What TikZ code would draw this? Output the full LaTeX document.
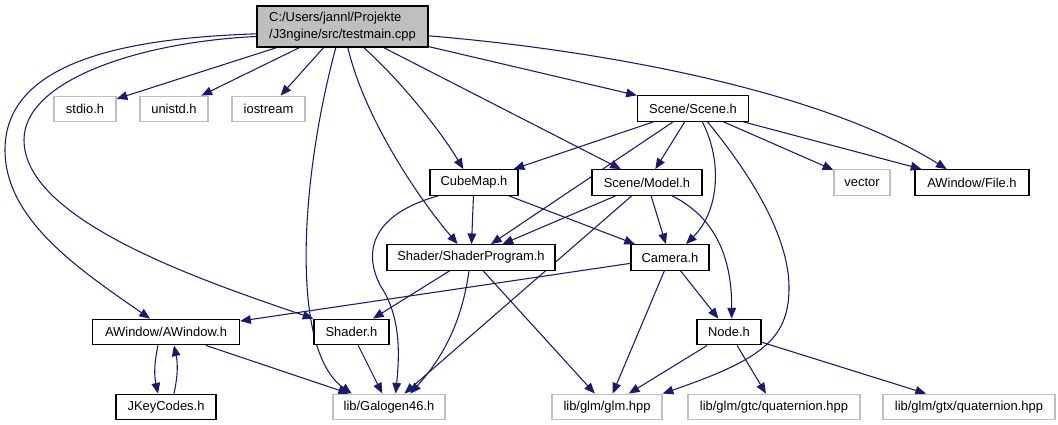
\documentclass[tikz,border=0pt]{standalone}
\usepackage{fontspec}
\setmainfont{Liberation Sans}
\usepackage{tikz}
\usetikzlibrary{arrows.meta,positioning,calc,backgrounds}

\definecolor{edgeblue}{HTML}{191970}
\definecolor{boxgray}{HTML}{BFBFBF}

\begin{document}
\begin{tikzpicture}[x=0.75pt, y=-0.75pt,
    >={Triangle[length=8pt,width=6.5pt]},
    hdr/.style={draw=black, line width=1pt, fill=white, inner sep=0pt,
        minimum height=25.5*0.75pt, font=\fontsize{9.7}{12.7}\selectfont},
    ext/.style={hdr, draw=boxgray},
    root/.style={hdr, fill=boxgray, align=left, minimum height=41*0.75pt},
    incl/.style={->, draw=edgeblue, line width=0.8pt}]
    % 1 像素 = 0.75pt，座標直接用像素 (y 向下)
    \def\px{0.75pt}
    \useasboundingbox (0,0) rectangle (1058,425);

    % --- 第一排：主檔與系統標頭 ---
    \node[root, minimum width=171*\px] (main) at (342.5,26.5) {C:/Users/jannl/Projekte\\/J3ngine/src/testmain.cpp};
    \node[ext, minimum width=62*\px] (stdio) at (85,109) {stdio.h};
    \node[ext, minimum width=68*\px] (unistd) at (174,109) {unistd.h};
    \node[ext, minimum width=73*\px] (iostream) at (268.5,109) {iostream};
    \node[hdr, minimum width=111*\px] (scene) at (693,108.5) {Scene/Scene.h};

    % --- 第二排 ---
    \node[hdr, minimum width=88*\px] (cubemap) at (474,182.5) {CubeMap.h};
    \node[hdr, minimum width=110*\px] (model) at (647,182.5) {Scene/Model.h};
    \node[ext, minimum width=56*\px] (vector) at (862,182.5) {vector};
    \node[hdr, minimum width=114*\px] (awfile) at (972,182.5) {AWindow/File.h};

    % --- 第三排 ---
    \node[hdr, minimum width=168*\px] (shprog) at (471,257.5) {Shader/ShaderProgram.h};
    \node[hdr, minimum width=78*\px] (camera) at (670,257.5) {Camera.h};

    % --- 第四排 ---
    \node[hdr, minimum width=147*\px] (awin) at (166,332) {AWindow/AWindow.h};
    \node[hdr, minimum width=75*\px] (shader) at (351.5,332) {Shader.h};
    \node[hdr, minimum width=64*\px] (nodeh) at (729,332) {Node.h};

    % --- 最底排 ---
    \node[hdr, minimum width=100*\px] (jkey) at (166,407) {JKeyCodes.h};
    \node[ext, minimum width=112*\px] (galogen) at (389,407) {lib/Galogen46.h};
    \node[ext, minimum width=110*\px] (glm) at (607,407) {lib/glm/glm.hpp};
    \node[ext, minimum width=172*\px] (gtc) at (774,407) {lib/glm/gtc/quaternion.hpp};
    \node[ext, minimum width=172*\px] (gtx) at (969,407) {lib/glm/gtx/quaternion.hpp};

    \begin{scope}[on background layer]
    % --- testmain.cpp 的 include ---
    \draw[incl] (main) -- (stdio);
    \draw[incl] (main) -- (unistd);
    \draw[incl] (main) -- (iostream);
    \draw[incl] ([yshift=-5.5pt]main.west) .. controls (130,38) and (5,60) .. (5,150)
        .. controls (5,220) and (80,270) .. ([xshift=-12pt]awin.north);
    \draw[incl] ([yshift=-7.5pt]main.west) .. controls (140,42) and (24,80) .. (24,140)
        .. controls (24,220) and (200,280) .. (shader.north west);
    \draw[incl] ([xshift=-5pt]main.south) .. controls (300,180) and (290,350) .. ([xshift=-28pt]galogen.north);
    \draw[incl] ([xshift=4pt]main.south) .. controls (365,120) and (420,200) .. ([xshift=-10pt]shprog.north);
    \draw[incl] ([xshift=16pt]main.south) .. controls (400,80) and (440,130) .. ([xshift=-8pt]cubemap.north);
    \draw[incl] (main) -- (model);
    \draw[incl] (main) -- (scene);
    \draw[incl] ([yshift=-7pt]main.east) .. controls (600,50) and (820,90) .. ([xshift=-19pt]awfile.north);

    % --- Scene/Scene.h ---
    \draw[incl] (scene) -- (cubemap);
    \draw[incl] (scene) -- (shprog);
    \draw[incl] (scene) -- (model);
    \draw[incl] ([xshift=7pt]scene.south) .. controls (722,160) and (720,210) .. ([xshift=12pt]camera.north);
    \draw[incl] ([xshift=11pt]scene.south) .. controls (755,180) and (790,240) .. (789,290)
        .. controls (788,340) and (760,360) .. (glm.north east);
    \draw[incl] (scene) -- (vector);
    \draw[incl] (scene) -- (awfile);

    % --- CubeMap.h ---
    \draw[incl] ([xshift=-27pt]cubemap.south) .. controls (380,212) and (360,245) .. (380,285)
        .. controls (400,315) and (400,350) .. ([xshift=5pt]galogen.north);
    \draw[incl] (cubemap) -- (shprog);
    \draw[incl] (cubemap) -- (camera);

    % --- Scene/Model.h ---
    \draw[incl] (model) -- (shprog);
    \draw[incl] (model) -- (galogen);
    \draw[incl] (model) -- (camera);
    \draw[incl] ([xshift=19pt]model.south) .. controls (710,215) and (732,250) .. ([xshift=2pt]nodeh.north);

    % --- Shader/ShaderProgram.h ---
    \draw[incl] (shprog) -- (shader);
    \draw[incl] ([xshift=-1.5pt]shprog.south) .. controls (462,320) and (445,355) .. ([xshift=16pt]galogen.north);
    \draw[incl] (shprog) -- (glm);

    % --- Camera.h ---
    \draw[incl] (camera) -- (awin);
    \draw[incl] (camera) -- (glm);
    \draw[incl] (camera) -- (nodeh);

    % --- AWindow/AWindow.h 與 JKeyCodes.h 互相 include ---
    \draw[incl] ([xshift=-6pt]awin.south) to[bend right=12] ([xshift=-6pt]jkey.north);
    \draw[incl] ([xshift=6pt]jkey.north) to[bend right=12] ([xshift=6pt]awin.south);
    \draw[incl] (awin) -- (galogen);
    \draw[incl] (shader) -- (galogen);

    % --- Node.h ---
    \draw[incl] (nodeh) -- (glm);
    \draw[incl] (nodeh) -- (gtc);
    \draw[incl] (nodeh) -- (gtx);
    \end{scope}
\end{tikzpicture}
\end{document}
